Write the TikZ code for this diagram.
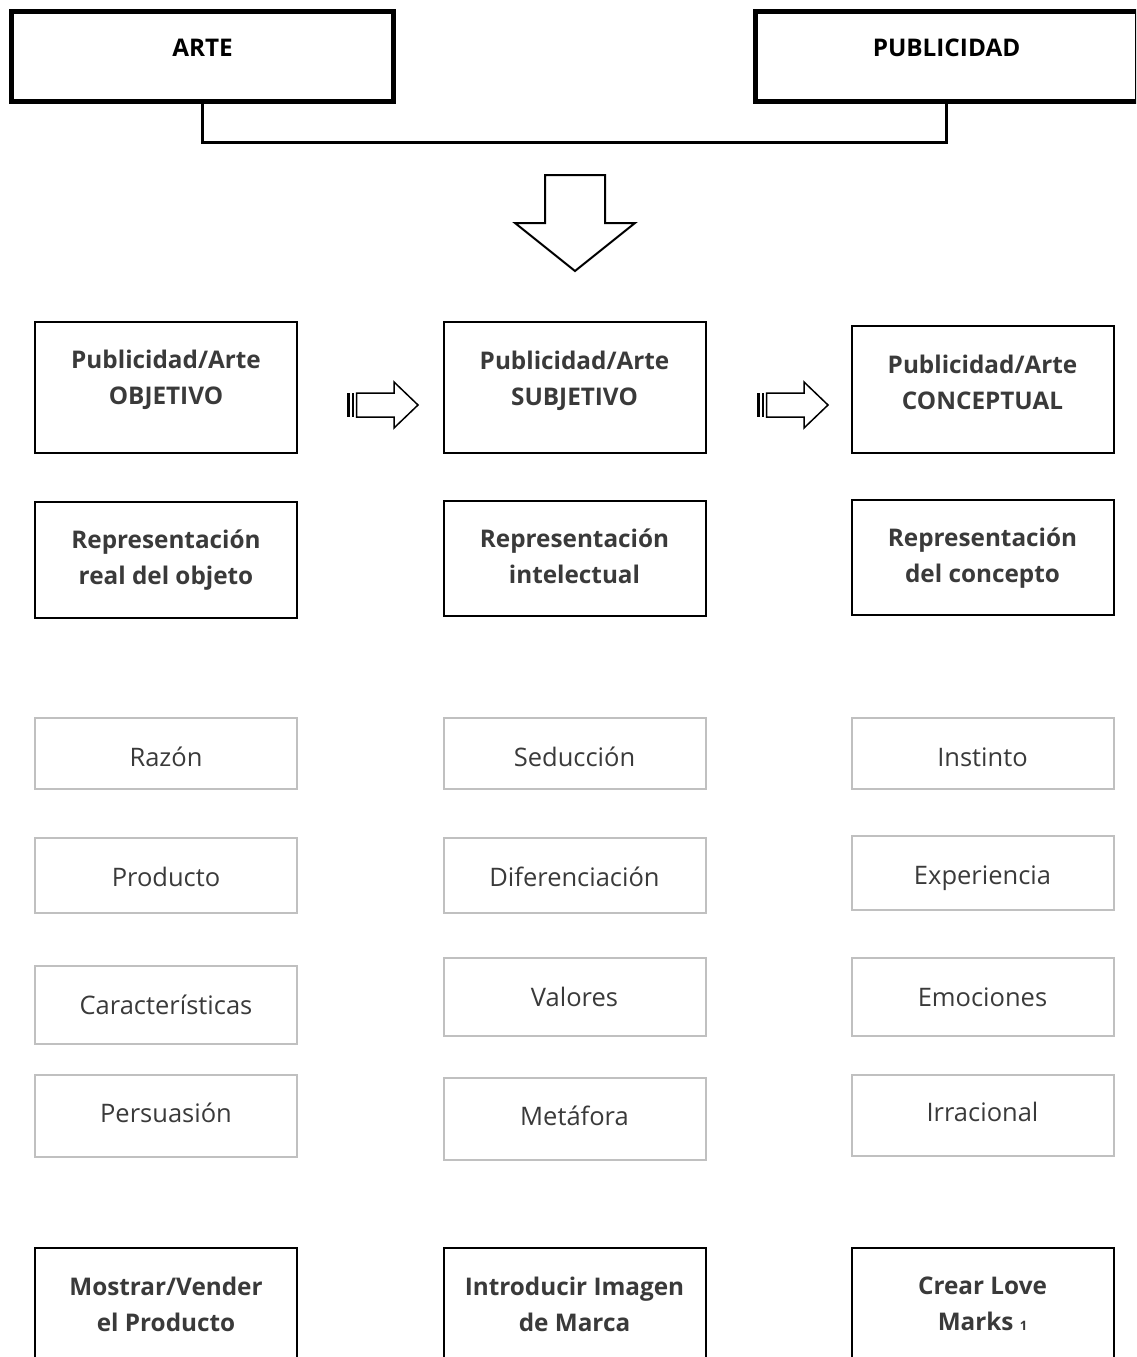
\documentclass[tikz,border=0pt]{standalone}
\usepackage{fontspec}
\setmainfont{Open Sans}
\usetikzlibrary{positioning}
\definecolor{txtgray}{HTML}{3A3A3A}
\definecolor{boxgray}{HTML}{C0C0C0}

\begin{document}
\begin{tikzpicture}[x=1pt, y=-1pt,
		head/.style={draw, line width=5pt, minimum width=382pt, minimum height=90pt, inner sep=0pt},
		frame/.style={draw, line width=2pt, minimum width=262pt, minimum height=#1, inner sep=0pt},
		soft/.style={draw=boxgray, line width=2pt, minimum width=262pt, minimum height=#1, inner sep=0pt},
		word/.style={text=txtgray, inner sep=0pt, text height=18.2pt, text depth=0pt, font=\fontsize{25.5}{36}\selectfont},
		lbl/.style={text=txtgray, align=center, inner sep=0pt, text depth=0pt, font=\bfseries\fontsize{24.3}{36}\selectfont},
		hollow/.style={draw, line width=#1, line join=miter, fill=white}
		]
		\useasboundingbox (0,0) rectangle (1136,1357);
		\clip (0,0) rectangle (1136,1357);
		
		% Top: ARTE + PUBLICIDAD
		\node[head] (arte) at (202.5,56.5) {};
		\node[lbl, text=black] (artet) at (202.5,48) {ARTE};
		\node[head] (publi) at (946.5,56.5) {};
		\node[lbl, text=black] (publit) at (946.5,48) {PUBLICIDAD};
		\draw[line width=2.5pt] (arte.south) -- ++(0,38.5) -| (publi.south);
		
		% Big block arrow down
		\draw[hollow=2pt] (545,175) -- (605,175) -- (605,223) -- (635,223) -- (575,271) -- (515,223) -- (545,223) -- cycle;
		
		% Row 1: the three kinds
		\node[frame=131pt] (obj) at (166,387.5) {};
		\node[lbl] (objt) at (166,377) {Publicidad/Arte\\OBJETIVO};
		\node[frame=131pt] (subj) at (574.5,387.5) {};
		\node[lbl] (subjt) at (574.5,378) {Publicidad/Arte\\SUBJETIVO};
		\node[frame=127pt] (conc) at (982.5,389.5) {};
		\node[lbl] (conct) at (982.5,382) {Publicidad/Arte\\CONCEPTUAL};
		
		% Striped arrows between the kinds
		\foreach \sx in {347,757} {
			\begin{scope}[xshift=\sx]
				\fill (0,393) rectangle (3,417);
				\fill (4.5,393) rectangle (6.5,417);
				\draw[hollow=1.5pt] (9.5,393) -- (47,393) -- (47,382) -- (71,405) -- (47,428) -- (47,417) -- (9.5,417) -- cycle;
			\end{scope}
		}
		
		% Row 2: representation
		\node[frame=116pt] (rreal) at (166,560) {};
		\node[lbl] (rrealt) at (166,557) {Representación\\real del objeto};
		\node[frame=115pt] (rint) at (574.5,558.5) {};
		\node[lbl] (rintt) at (574.5,556) {Representación\\intelectual};
		\node[frame=115pt] (rcon) at (982.5,557.5) {};
		\node[lbl] (rcont) at (982.5,555) {Representación\\del concepto};
		
		% Grey keyword boxes
		\node[soft=71pt] (razon) at (166,753.5) {};
		\node[word] at ([yshift=-3.5pt]razon.center) {Razón};
		\node[soft=71pt] (seduc) at (574.5,753.5) {};
		\node[word] at ([yshift=-3.5pt]seduc.center) {Seducción};
		\node[soft=71pt] (instin) at (982.5,753.5) {};
		\node[word] at ([yshift=-3.5pt]instin.center) {Instinto};
		
		\node[soft=75pt] (prod) at (166,875.5) {};
		\node[word] at ([yshift=-1.5pt]prod.center) {Producto};
		\node[soft=75pt] (difer) at (574.5,875.5) {};
		\node[word] at ([yshift=-1.5pt]difer.center) {Diferenciación};
		\node[soft=74pt] (exper) at (982.5,873) {};
		\node[word] at ([yshift=-2pt]exper.center) {Experiencia};
		
		\node[soft=78pt] (caract) at (166,1005) {};
		\node[word] at (caract.center) {Características};
		\node[soft=78pt] (valor) at (574.5,997) {};
		\node[word] at (valor.center) {Valores};
		\node[soft=78pt] (emoc) at (982.5,997) {};
		\node[word] at (emoc.center) {Emociones};
		
		\node[soft=82pt] (persu) at (166,1116) {};
		\node[word] at ([yshift=3pt]persu.center) {Persuasión};
		\node[soft=82pt] (metaf) at (574.5,1119) {};
		\node[word] at ([yshift=3pt]metaf.center) {Metáfora};
		\node[soft=81pt] (irrac) at (982.5,1115.5) {};
		\node[word] at ([yshift=3.5pt]irrac.center) {Irracional};
		
		% Bottom: goals (cut by the page)
		\node[frame=120pt] (mostrar) at (166,1308) {};
		\node[lbl] (mostrart) at (166,1304) {Mostrar/Vender\\el Producto};
		\node[frame=120pt] (imagen) at (574.5,1308) {};
		\node[lbl] (imagent) at (574.5,1304) {Introducir Imagen\\de Marca};
		\node[frame=120pt] (love) at (982.5,1308) {};
		\node[lbl] (lovet) at (982.5,1304) {Crear Love\\Marks {\fontsize{13}{13}\selectfont 1}};
		
\end{tikzpicture}
\end{document}
